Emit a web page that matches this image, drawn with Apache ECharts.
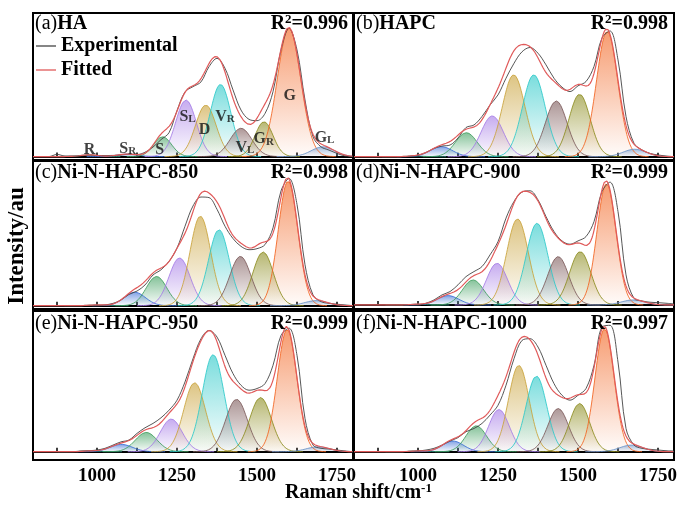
<!DOCTYPE html>
<html>
<head>
<meta charset="utf-8">
<script src="https://cdn.jsdelivr.net/npm/echarts@6/dist/echarts.min.js"></script>
<style>
html, body { margin: 0; padding: 0; background: #fff; }
#chart { width: 681px; height: 508px; }
</style>
</head>
<body>
<div id="chart"></div>
<script>
// Raman shift positions where the experimental spectra were read (cm-1)
const shiftSamples = [800, 825, 850, 875, 900, 925, 950, 975, 1000, 1025, 1050, 1075, 1100, 1125, 1150, 1175,
  1200, 1225, 1250, 1275, 1300, 1325, 1350, 1375, 1400, 1425, 1450, 1475, 1500, 1525, 1550, 1575,
  1600, 1625, 1650, 1675, 1700, 1725, 1750, 1775, 1800];

const peakNames = ['R', 'S_R', 'S', 'S_L', 'D', 'V_R', 'V_L', 'G_R', 'G', 'G_L'];
const panelTags = ['(a)', '(b)', '(c)', '(d)', '(e)', '(f)'];
const sampleNames = ['HA', 'HAPC', 'Ni-N-HAPC-850', 'Ni-N-HAPC-900', 'Ni-N-HAPC-950', 'Ni-N-HAPC-1000'];
const rSquared = ['0.996', '0.998', '0.998', '0.999', '0.999', '0.997'];
const xTicks = [875, 1000, 1125, 1250, 1375, 1500, 1625, 1750];
const xLabels = [1000, 1250, 1500, 1750];

// fitted bands: centre (cm-1), height (au), FWHM (cm-1), order as peakNames
const haCentres = [975, 1095, 1205, 1278, 1340, 1386, 1450, 1522, 1600, 1706];
const haHeights = [1.2, 1.7, 13.8, 39.4, 35.9, 50.3, 19.7, 24.3, 89.4, 6.8];
const haFwhm = [60, 75, 66, 76, 76, 76, 80, 66, 86, 85];

const hapcCentres = [990, 1073, 1151, 1232, 1299, 1362, 1432, 1505, 1591, 1677];
const hapcHeights = [0.5, 7.0, 16.7, 28.4, 57, 57, 38.8, 43.5, 87.2, 5.2];
const hapcFwhm = [60, 82, 80, 82, 84, 84, 80, 78, 78, 85];

const ni850Centres = [1000, 1118, 1186, 1258, 1323, 1381, 1448, 1519, 1597, 1685];
const ni850Heights = [0.5, 9.3, 20.2, 33, 61.9, 52.6, 34.1, 37.1, 86.2, 3.5];
const ni850Fwhm = [60, 78, 76, 78, 76, 76, 78, 76, 72, 85];

const ni900Centres = [1000, 1094, 1172, 1247, 1311, 1372, 1438, 1507, 1589, 1672];
const ni900Heights = [0.5, 6.5, 17.4, 29, 59.8, 56.8, 33.6, 37.1, 84.3, 3.5];
const ni900Fwhm = [60, 80, 78, 78, 80, 80, 78, 78, 70, 85];

const ni950Centres = [980, 1076, 1154, 1232, 1305, 1363, 1436, 1511, 1594, 1691];
const ni950Heights = [0.5, 5.2, 13.7, 23.2, 49.1, 69, 37.3, 38.5, 86.9, 3.5];
const ni950Fwhm = [60, 82, 80, 80, 80, 80, 80, 80, 72, 85];

const ni1000Centres = [1000, 1109, 1182, 1253, 1315, 1370, 1438, 1505, 1583, 1667];
const ni1000Heights = [0.5, 7.6, 18.4, 30, 61.4, 53.8, 30.7, 34.3, 87.4, 4.7];
const ni1000Fwhm = [60, 78, 76, 76, 76, 76, 76, 74, 70, 85];

// experimental intensity at shiftSamples
const haExperimental = [0, 0, 0, 1.5, 0.4, 0.4, 0.5, 1.0, 0.8, 0.7, 0.8, 1.0, 1.7, 1.4, 3, 6.6,
  11.8, 16.6, 32, 45, 48.7, 52, 62.6, 68.4, 61.5, 46.4, 32.4, 25.9, 25, 30, 45.2, 74.3,
  89.4, 74.3, 39.4, 13.8, 6.8, 4.5, 2.2, 0.4, 0];
const hapcExperimental = [0, 0, 0, 0, 0, 0, 0, 0.3, 1, 3, 5.8, 7.4, 8.1, 13, 20.3, 22.1,
  28, 36, 43, 54.6, 65, 73, 76, 72, 63.9, 54.6, 48.4, 45.3, 49.3, 52.3, 62.8, 82.6,
  87.5, 67.4, 28, 9.3, 4.7, 2.3, 1.2, 0.5, 0];
const ni850Experimental = [0, 0, 0, 0, 0, 0, 0, 0, 0, 0.5, 1.6, 3.9, 7.8, 10.1, 14.3, 21.2,
  24.8, 30.6, 39.8, 54.9, 68.9, 75.1, 74.7, 66.6, 54.9, 46.4, 41, 38.7, 39.4, 42.2, 53.8, 79.3,
  88, 70, 28.3, 7.4, 2.8, 1.6, 1, 0.5, 0];
const ni900Experimental = [0, 0, 0, 0, 0, 0, 0, 0, 0, 1.2, 3.5, 7, 9.3, 14, 19.7, 23.2,
  26.7, 34.8, 44, 60.3, 71.9, 78.4, 79.3, 73, 61.4, 51, 44.5, 42.2, 44.5, 47.5, 57.9, 78.8,
  85.3, 64.9, 20.9, 4.6, 2.8, 1.9, 1.6, 1.2, 0.7];
const ni950Experimental = [0, 0, 0, 0, 0, 0, 0.5, 0.7, 1.2, 2.4, 4.7, 7, 8.3, 13, 17, 20.1,
  24.1, 29.5, 36.6, 49.6, 66.1, 80.3, 86.2, 81.5, 68.5, 55.5, 47.2, 43.7, 44.9, 48.4, 61.4, 82.6,
  87.8, 68.5, 23.6, 4.7, 2.4, 1.9, 1.2, 0.5, 0];
const ni1000Experimental = [0, 0, 0, 0, 0, 0, 0, 0.3, 0.5, 1.2, 2.4, 4.7, 7.6, 10, 14.2, 16.5,
  20.1, 26, 33, 47.2, 66.1, 79.1, 80.3, 74.4, 61.4, 48.4, 40.1, 36.6, 40.1, 44.9, 61.4, 88.6,
  89.8, 63.7, 16.5, 4.7, 2.4, 1.7, 1.2, 0.7, 0.5];

const panels = [
  { centres: haCentres, heights: haHeights, fwhm: haFwhm, exp: haExperimental },
  { centres: hapcCentres, heights: hapcHeights, fwhm: hapcFwhm, exp: hapcExperimental },
  { centres: ni850Centres, heights: ni850Heights, fwhm: ni850Fwhm, exp: ni850Experimental },
  { centres: ni900Centres, heights: ni900Heights, fwhm: ni900Fwhm, exp: ni900Experimental },
  { centres: ni950Centres, heights: ni950Heights, fwhm: ni950Fwhm, exp: ni950Experimental },
  { centres: ni1000Centres, heights: ni1000Heights, fwhm: ni1000Fwhm, exp: ni1000Experimental }
];

// layout
const FONT = '"Liberation Serif", "Times New Roman", serif';
const cells = [
  { left: 33, top: 13, height: 147, yMin: -2.4, titleTop: 13 },
  { left: 354, top: 13, height: 147, yMin: -2.3, titleTop: 13 },
  { left: 33, top: 161, height: 148, yMin: -2.3, titleTop: 162 },
  { left: 354, top: 161, height: 148, yMin: -2.8, titleTop: 162 },
  { left: 33, top: 311, height: 149, yMin: -5.9, titleTop: 313 },
  { left: 354, top: 311, height: 149, yMin: -5.9, titleTop: 313 }
];
const peakColors = ['#2f8f7f', '#3c6fd6', '#3f9f5f', '#a57be6', '#c9a23a', '#2cc9c9',
  '#7d5a5a', '#8c8c1e', '#f2631f', '#6c94c8'];
// where the band names sit in panel (a): [shift, intensity]
const labelSpots = [[977, 4.5], [1096, 5.2], [1196, 4.5], [1283, 27.5], [1336, 18.5],
  [1400, 27.5], [1462, 5.9], [1521, 12], [1602, 42], [1711, 12.9]];

const rgba = (hex, a) => {
  const n = parseInt(hex.slice(1), 16);
  return `rgba(${n >> 16},${(n >> 8) & 255},${n & 255},${a})`;
};
const band = (c, h, w, x) => {
  const s = w / 2.3548;
  return h * Math.exp(-(x - c) * (x - c) / (2 * s * s));
};

const chart = echarts.init(document.getElementById('chart'));

const grid = [], xAxis = [], yAxis = [], series = [], title = [];
cells.forEach((cell, p) => {
  grid.push({
    left: cell.left, top: cell.top, width: 320, height: cell.height,
    show: true, borderColor: '#000', borderWidth: 2, backgroundColor: 'transparent'
  });
  xAxis.push({
    type: 'value', gridIndex: p, min: 800, max: 1800,
    axisLine: { lineStyle: { color: '#000', width: 2 } },
    axisTick: { inside: true, length: 4, customValues: xTicks, lineStyle: { color: '#000', width: 1.5 } },
    axisLabel: {
      show: p >= 4, customValues: xLabels, margin: 7, color: '#000',
      fontFamily: FONT, fontWeight: 'bold', fontSize: 19,
      formatter: (v) => String(v)
    },
    splitLine: { show: false }
  });
  yAxis.push({ type: 'value', gridIndex: p, min: cell.yMin, max: 100, show: false });

  const pan = panels[p];
  pan.centres.forEach((c, k) => {
    const s = pan.fwhm[k] / 2.3548;
    const pts = [];
    for (let x = Math.max(800, c - 4 * s); x <= Math.min(1800, c + 4 * s); x += 2) {
      pts.push([x, band(c, pan.heights[k], pan.fwhm[k], x)]);
    }
    series.push({
      name: sampleNames[p] + ' ' + peakNames[k], type: 'line', xAxisIndex: p, yAxisIndex: p,
      data: pts, showSymbol: false, silent: true,
      lineStyle: { color: rgba(peakColors[k], 0.85), width: 1 },
      areaStyle: {
        origin: 'auto',
        color: new echarts.graphic.LinearGradient(0, 0, 0, 1, [
          { offset: 0, color: rgba(peakColors[k], 0.9) },
          { offset: 1, color: rgba(peakColors[k], 0.03) }
        ])
      }
    });
  });

  series.push({
    name: 'Experimental', type: 'line', xAxisIndex: p, yAxisIndex: p,
    data: shiftSamples.map((x, i) => [x, pan.exp[i]]),
    smooth: 0.35, showSymbol: false, color: '#444',
    lineStyle: { color: '#444', width: 0.9 }
  });

  const fit = [];
  for (let x = 800; x <= 1800; x += 2) {
    let y = 0;
    pan.centres.forEach((c, k) => { y += band(c, pan.heights[k], pan.fwhm[k], x); });
    fit.push([x, y]);
  }
  series.push({
    name: 'Fitted', type: 'line', xAxisIndex: p, yAxisIndex: p,
    data: fit, showSymbol: false, color: '#e05a5a',
    lineStyle: { color: '#e05a5a', width: 1.2 }
  });

  const textLeft = p % 2 === 0 ? 35 : 356;
  title.push({
    text: `{n|${panelTags[p]}}{b|${sampleNames[p]}}`, left: textLeft, top: cell.titleTop, padding: 0,
    textStyle: {
      rich: {
        n: { fontFamily: FONT, fontSize: 20, fontWeight: 'normal', color: '#000', lineHeight: 22 },
        b: { fontFamily: FONT, fontSize: 20, fontWeight: 'bold', color: '#000', lineHeight: 22 }
      }
    }
  });
  title.push({
    text: `{b|R}{sup|2}{b|=${rSquared[p]}}`, right: p % 2 === 0 ? 333 : 13, top: cell.titleTop, padding: 0,
    textStyle: {
      rich: {
        b: { fontFamily: FONT, fontSize: 20, fontWeight: 'bold', color: '#000', lineHeight: 22 },
        sup: { fontFamily: FONT, fontSize: 13, fontWeight: 'bold', color: '#000', lineHeight: 12, verticalAlign: 'top' }
      }
    }
  });
});

// band names in panel (a)
series.push({
  name: 'band names', type: 'scatter', xAxisIndex: 0, yAxisIndex: 0, symbolSize: 0, silent: true,
  data: labelSpots.map((v, i) => ({ value: v, name: peakNames[i] })),
  label: {
    show: true, position: 'inside',
    formatter: (d) => {
      const [m, s] = d.name.split('_');
      return s ? `{m|${m}}{s|${s}}` : `{m|${m}}`;
    },
    rich: {
      m: { fontFamily: FONT, fontSize: 16, fontWeight: 'bold', color: '#111', lineHeight: 16 },
      s: { fontFamily: FONT, fontSize: 11, fontWeight: 'bold', color: '#111', lineHeight: 10, verticalAlign: 'bottom' }
    }
  },
  z: 5
});

title.push({
  text: '{b|Raman shift/cm}{sup|-1}', left: 285, top: 482, padding: 0,
  textStyle: {
    rich: {
      b: { fontFamily: FONT, fontSize: 20, fontWeight: 'bold', color: '#000', lineHeight: 22 },
      sup: { fontFamily: FONT, fontSize: 13, fontWeight: 'bold', color: '#000', lineHeight: 12, verticalAlign: 'top' }
    }
  }
});

chart.setOption({
  animation: false,
  backgroundColor: '#fff',
  title: title,
  legend: {
    data: ['Experimental', 'Fitted'], orient: 'vertical', left: 36, top: 36, padding: 0,
    icon: 'rect', itemWidth: 20, itemHeight: 1.3, itemGap: 4,
    textStyle: { fontFamily: FONT, fontSize: 20, fontWeight: 'bold', color: '#000' }
  },
  graphic: [{
    type: 'text', x: 17, y: 246, rotation: Math.PI / 2,
    style: {
      text: 'Intensity/au', font: 'bold 23px "Liberation Serif", serif', fill: '#000',
      align: 'center', verticalAlign: 'middle'
    }
  }],
  grid: grid,
  xAxis: xAxis,
  yAxis: yAxis,
  series: series
});
</script>
</body>
</html>
